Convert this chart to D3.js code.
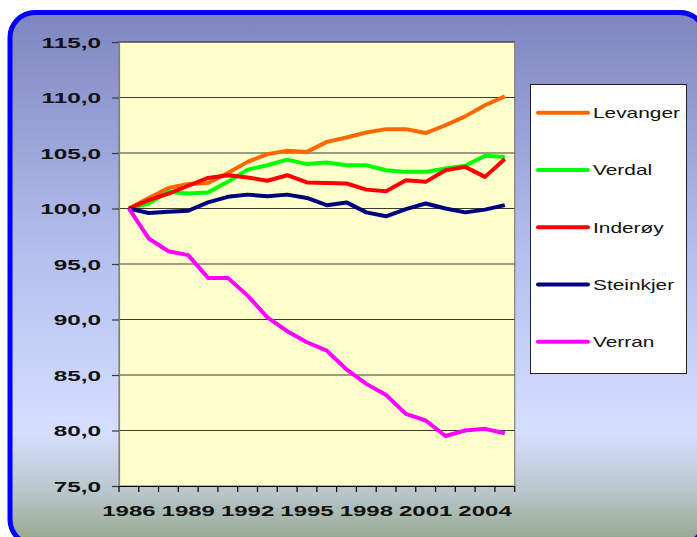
<!DOCTYPE html>
<html>
<head>
<meta charset="utf-8">
<script src="https://cdn.jsdelivr.net/npm/d3@7"></script>
<style>
body { margin: 0; background: #fff; }
text { font-family: Arial, "Liberation Sans", sans-serif; }
</style>
</head>
<body>
<script>

var w = 697;
var h = 537;

// data (index, 1986 = 100)
var years = d3.range(1986, 2006);
var labelYears = [1986, 1989, 1992, 1995, 1998, 2001, 2004];
var names = ["Levanger", "Verdal", "Inderøy", "Steinkjer", "Verran"];
var colors = ["#ff6600", "#00ff00", "#ff0000", "#000080", "#ff00ff"];

var levanger = [100, 100.95, 101.85, 102.2, 102.3, 103.2, 104.2, 104.9, 105.2, 105.1,
                106.0, 106.4, 106.85, 107.15, 107.15, 106.8, 107.5, 108.3, 109.3, 110.1];
var verdal = [100, 100.45, 101.5, 101.35, 101.45, 102.4, 103.5, 103.9, 104.4, 104.0,
              104.15, 103.9, 103.9, 103.45, 103.3, 103.3, 103.6, 103.85, 104.75, 104.65];
var inderoy = [100, 100.75, 101.35, 102.05, 102.75, 103.0, 102.8, 102.5, 103.0, 102.35,
               102.3, 102.25, 101.7, 101.55, 102.55, 102.4, 103.45, 103.75, 102.85, 104.45];
var steinkjer = [100, 99.6, 99.7, 99.8, 100.55, 101.05, 101.25, 101.1, 101.25, 100.95,
                 100.3, 100.55, 99.65, 99.3, 99.95, 100.45, 100.0, 99.65, 99.9, 100.3];
var verran = [100, 97.3, 96.15, 95.8, 93.75, 93.75, 92.15, 90.2, 88.95, 87.95,
              87.2, 85.5, 84.2, 83.2, 81.5, 80.9, 79.5, 80.0, 80.15, 79.75];

var series = [levanger, verdal, inderoy, steinkjer, verran];
var yTicks = d3.range(75, 116, 5);

var svg = d3.select("body")
    .append("svg")
    .attr("width", w)
    .attr("height", h);

// stretch text horizontally, like the squashed original
var stretch = function(sel, factor) {
    sel.each(function() {
        var len = this.getComputedTextLength();
        d3.select(this)
            .attr("textLength", len * factor)
            .attr("lengthAdjust", "spacingAndGlyphs");
    });
}

// background frame

var defs = svg.append("defs");
var grad = defs.append("linearGradient")
    .attr("id", "bg")
    .attr("x1", 0).attr("y1", 0).attr("x2", 0).attr("y2", 1);
grad.append("stop").attr("offset", "0%").attr("stop-color", "#7e85bf");
grad.append("stop").attr("offset", "45%").attr("stop-color", "#b4bfee");
grad.append("stop").attr("offset", "79%").attr("stop-color", "#d5dfff");
grad.append("stop").attr("offset", "90%").attr("stop-color", "#b9c6cc");
grad.append("stop").attr("offset", "100%").attr("stop-color", "#92a78a");

svg.append("rect")
    .attr("x", 10)
    .attr("y", 12.5)
    .attr("width", 695)
    .attr("height", 532)
    .attr("rx", 25)
    .attr("fill", "url(#bg)")
    .attr("stroke", "#0000ff")
    .attr("stroke-width", 5);

// scales

var x = d3.scaleBand()
    .domain(years)
    .range([119, 514.7]);

var y = d3.scaleLinear()
    .domain([75, 115])
    .range([486, 42]);

var cx = function(d, i) { return x(years[i]) + x.bandwidth() / 2; };

// plot area

svg.append("rect")
    .attr("x", 119)
    .attr("y", 42)
    .attr("width", 514.7 - 119)
    .attr("height", 486 - 42)
    .attr("fill", "#ffffcc")
    .attr("stroke", "#808080")
    .attr("stroke-width", 1.2);

svg.append("g")
    .selectAll("line")
    .data(yTicks.slice(1))
    .enter()
    .append("line")
    .attr("x1", 119)
    .attr("x2", 514.7)
    .attr("y1", function(d) { return y(d); })
    .attr("y2", function(d) { return y(d); })
    .attr("stroke", "#3a3a30")
    .attr("stroke-width", 1.2);

// y axis

var yAxis = svg.append("g")
    .attr("transform", "translate(119,0)")
    .call(d3.axisLeft(y)
          .tickValues(yTicks)
          .tickSize(7)
          .tickPadding(11)
          .tickFormat(function(d) { return d.toFixed(1).replace(".", ","); }));

yAxis.select(".domain").attr("stroke", "#808080").attr("stroke-width", 1.2);
yAxis.selectAll(".tick line").attr("stroke", "#3a3a30").attr("stroke-width", 1.2);
yAxis.selectAll("text")
    .attr("font-size", "15px")
    .attr("font-weight", "bold")
    .attr("fill", "#111")
    .attr("font-family", "Arial, 'Liberation Sans', sans-serif")
    .attr("dy", "0.36em");
stretch(yAxis.selectAll("text"), 1.62);

// x axis

var xAxis = svg.append("g")
    .attr("transform", "translate(0,486)")
    .call(d3.axisBottom(x)
          .tickValues(labelYears)
          .tickSize(0)
          .tickPadding(19));

xAxis.select(".domain").attr("stroke", "#000").attr("stroke-width", 1.2);
xAxis.selectAll("text")
    .attr("font-size", "15px")
    .attr("font-weight", "bold")
    .attr("fill", "#111")
    .attr("font-family", "Arial, 'Liberation Sans', sans-serif");
stretch(xAxis.selectAll("text"), 1.6);

var edges = years.map(function(d) { return x(d); }).concat([x.range()[1]]);
svg.append("g")
    .selectAll("line")
    .data(edges)
    .enter()
    .append("line")
    .attr("x1", function(d) { return d; })
    .attr("x2", function(d) { return d; })
    .attr("y1", 486)
    .attr("y2", 492)
    .attr("stroke", "#000")
    .attr("stroke-width", 1.2);

// lines

var line = d3.line()
    .x(cx)
    .y(function(d) { return y(d); });

svg.append("g")
    .selectAll("path")
    .data(series)
    .enter()
    .append("path")
    .attr("d", line)
    .attr("fill", "none")
    .attr("stroke", function(d, i) { return colors[i]; })
    .attr("stroke-width", 4)
    .attr("stroke-linejoin", "round");

// legend

var legend = svg.append("g");

legend.append("rect")
    .attr("x", 530.5)
    .attr("y", 84.5)
    .attr("width", 156)
    .attr("height", 289)
    .attr("fill", "#fff")
    .attr("stroke", "#222")
    .attr("stroke-width", 1);

var items = legend.selectAll(".item")
    .data(names)
    .enter()
    .append("g")
    .attr("class", "item")
    .attr("transform", function(d, i) { return "translate(0," + (112.7 + i * 57.25) + ")"; });

items.append("line")
    .attr("x1", 538)
    .attr("x2", 588)
    .attr("stroke", function(d, i) { return colors[i]; })
    .attr("stroke-width", 4)
    .attr("stroke-linecap", "round");

items.append("text")
    .attr("x", 593)
    .attr("y", 5.5)
    .attr("font-size", "15px")
    .attr("fill", "#111")
    .text(function(d) { return d; });
stretch(items.selectAll("text"), 1.39);

</script>
</body>
</html>
